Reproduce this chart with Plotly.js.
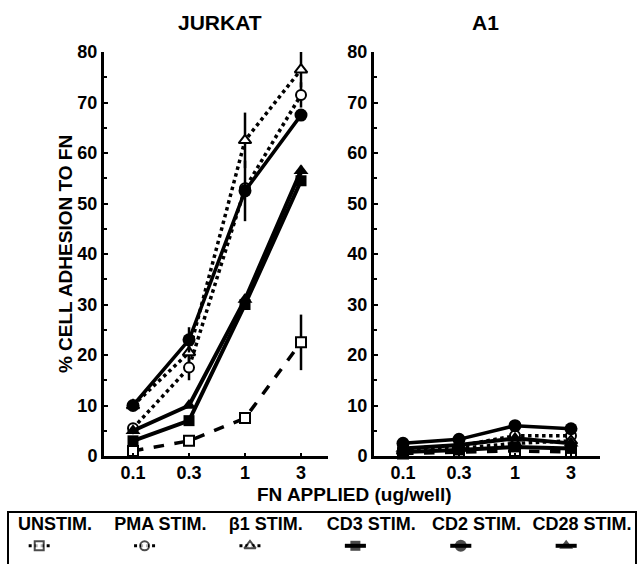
<!DOCTYPE html>
<html>
<head>
<meta charset="utf-8">
<script src="https://cdn.plot.ly/plotly-3.0.1.min.js"></script>
<style>html,body{margin:0;padding:0;background:#fff;}#chart{width:637px;height:564px;}</style>
</head>
<body>
<div id="chart"></div>
<script>
// ---- data ----
const doses = ['0.1', '0.3', '1', '3'];
const seriesNames = ['UNSTIM.', 'PMA STIM.', 'β1 STIM.', 'CD3 STIM.', 'CD2 STIM.', 'CD28 STIM.'];

// JURKAT panel (% cell adhesion)
const jurkatUnstim = [1, 3, 7.5, 22.5];
const jurkatPma    = [5.5, 17.5, 53, 71.5];
const jurkatB1     = [10, 20.5, 62.5, 76.5];
const jurkatCd3    = [3, 7, 30, 54.5];
const jurkatCd2    = [10, 23, 52.5, 67.5];
const jurkatCd28   = [5, 10, 31, 56.5];

// JURKAT error bars (+/-)
const jurkatUnstimErr = [0, 0, 0.5, 5.5];
const jurkatPmaErr    = [0, 2.5, 0, 2.5];
const jurkatB1Err     = [0, 2, 5.5, 3.5];
const jurkatCd3Err    = [0, 0, 1, 1];
const jurkatCd2Err    = [0, 2.5, 6, 0];
const jurkatCd28Err   = [0, 0, 1, 1];

// A1 panel
const a1Unstim = [0.5, 0.8, 1, 0.8];
const a1Pma    = [1.5, 2, 4, 4];
const a1B1     = [1, 1.5, 2.5, 3];
const a1Cd3    = [0.8, 1.2, 1.8, 1.5];
const a1Cd2    = [2.5, 3.3, 6, 5.4];
const a1Cd28   = [1.5, 2.2, 3.5, 2.5];

// ---- styles ----
const styles = [
  {dash: 'dash', width: 3.5, symbol: 'square', size: 10, open: true},
  {dash: 'dot',  width: 3.5, symbol: 'circle', size: 10, open: true},
  {dash: 'dot',  width: 3.5, symbol: 'triangle-up', size: 11, open: true},
  {dash: 'solid', width: 4, symbol: 'square', size: 11, open: false},
  {dash: 'solid', width: 3.5, symbol: 'circle', size: 13, open: false},
  {dash: 'solid', width: 4, symbol: 'triangle-up', size: 13, open: false}
];

const jurkat = [jurkatUnstim, jurkatPma, jurkatB1, jurkatCd3, jurkatCd2, jurkatCd28];
const jurkatErr = [jurkatUnstimErr, jurkatPmaErr, jurkatB1Err, jurkatCd3Err, jurkatCd2Err, jurkatCd28Err];
const a1 = [a1Unstim, a1Pma, a1B1, a1Cd3, a1Cd2, a1Cd28];

const xIdx = doses.map((d, i) => i);
const traces = [];
const drawOrder = [0, 1, 2, 3, 5, 4];

function markerFor(s) {
  return {symbol: s.symbol, size: s.size, color: s.open ? 'white' : 'black',
          line: {color: 'black', width: s.open ? 2 : 0}};
}

drawOrder.forEach(k => {
  const s = styles[k];
  traces.push({
    x: xIdx, y: jurkat[k], xaxis: 'x', yaxis: 'y', type: 'scatter', mode: 'lines+markers',
    name: seriesNames[k], showlegend: false, cliponaxis: false,
    line: {color: 'black', width: s.width, dash: s.dash},
    marker: markerFor(s),
    error_y: {type: 'data', array: jurkatErr[k], visible: true, color: 'black', thickness: 2.5, width: 0}
  });
});
drawOrder.forEach(k => {
  const s = styles[k];
  traces.push({
    x: xIdx, y: a1[k], xaxis: 'x2', yaxis: 'y2', type: 'scatter', mode: 'lines+markers',
    name: seriesNames[k], showlegend: false, cliponaxis: false,
    line: {color: 'black', width: s.width, dash: s.dash},
    marker: markerFor(s)
  });
});

// legend samples drawn on their own axis, one per series index
const legOff = -0.15, legHalf = 0.1;
seriesNames.forEach((nm, k) => {
  const s = styles[k];
  const c = k + legOff;
  traces.push({
    x: [c - legHalf, c, c + legHalf], y: [0.35, 0.35, 0.35], xaxis: 'x3', yaxis: 'y3',
    type: 'scatter', mode: 'lines+markers', showlegend: false, hoverinfo: 'skip',
    line: {color: 'black', width: s.open ? 3 : 4, dash: s.open ? 'dot' : 'solid'},
    marker: Object.assign(markerFor(s), {size: [0, s.size - 1, 0]})
  });
});
traces.push({
  x: seriesNames.map((n, k) => k), y: seriesNames.map(() => 0.74), text: seriesNames,
  xaxis: 'x3', yaxis: 'y3', type: 'scatter', mode: 'text', showlegend: false, hoverinfo: 'skip',
  textfont: {family: 'Liberation Sans, Arial, sans-serif', size: 18, color: 'black', weight: 'bold'}
});

const W = 637, H = 564;
const px = v => v / W, py = v => 1 - v / H;
const tickFont = {family: 'Liberation Sans, Arial, sans-serif', size: 18, color: 'black', weight: 'bold'};

function yAx(extra) {
  return Object.assign({
    range: [0, 80], tickvals: [0, 10, 20, 30, 40, 50, 60, 70, 80],
    showline: true, linewidth: 3, linecolor: 'black', mirror: false,
    ticks: 'inside', ticklen: 4, tickwidth: 2, tickcolor: 'black',
    minor: {tickvals: [5, 15, 25, 35, 45, 55, 65, 75], ticks: 'inside', ticklen: 3, tickwidth: 2, tickcolor: 'black'},
    showgrid: false, zeroline: false, tickfont: tickFont, domain: [py(456), py(52)], fixedrange: true
  }, extra);
}
function xAx(extra) {
  return Object.assign({
    tickvals: xIdx, ticktext: doses,
    showline: true, linewidth: 3, linecolor: 'black',
    ticks: 'inside', ticklen: 3, tickwidth: 2, tickcolor: 'black', ticklabelstandoff: -2,
    showgrid: false, zeroline: false, tickfont: tickFont, fixedrange: true
  }, extra);
}

const titleFont = {family: 'Liberation Sans, Arial, sans-serif', size: 19, color: 'black', weight: 'bold'};
const layout = {
  width: W, height: H, margin: {l: 0, r: 0, t: 0, b: 0},
  paper_bgcolor: 'white', plot_bgcolor: 'rgba(0,0,0,0)', showlegend: false,
  xaxis: xAx({domain: [px(104), px(328)], range: [-0.518, 3.482], anchor: 'y'}),
  yaxis: yAx({anchor: 'x', title: {text: '% CELL ADHESION TO FN', standoff: 0, font: titleFont}}),
  xaxis2: xAx({domain: [px(374), px(600)], range: [-0.518, 3.518], anchor: 'y2'}),
  yaxis2: yAx({anchor: 'x2'}),
  xaxis3: {domain: [0, 1], range: [-0.522, 5.522], anchor: 'y3', visible: false, fixedrange: true},
  yaxis3: {domain: [0, py(512)], range: [0, 1], anchor: 'x3', visible: false, fixedrange: true},
  shapes: [{type: 'rect', xref: 'paper', yref: 'paper', x0: px(8), x1: px(636), y0: py(566), y1: py(512),
            line: {color: 'black', width: 2}}],
  annotations: [
    {text: 'JURKAT', xref: 'paper', yref: 'paper', x: px(220), y: py(22), yanchor: 'middle', xanchor: 'center', showarrow: false,
     font: {family: 'Liberation Sans, Arial, sans-serif', size: 21, color: 'black', weight: 'bold'}},
    {text: 'A1', xref: 'paper', yref: 'paper', x: px(485), y: py(22), yanchor: 'middle', xanchor: 'center', showarrow: false,
     font: {family: 'Liberation Sans, Arial, sans-serif', size: 21, color: 'black', weight: 'bold'}},
    {text: 'FN APPLIED (ug/well)', xref: 'paper', yref: 'paper', x: px(354), y: py(494), yanchor: 'middle', xanchor: 'center', showarrow: false,
     font: titleFont}
  ]
};

Plotly.newPlot('chart', traces, layout, {displayModeBar: false, staticPlot: true});
</script>
</body>
</html>
